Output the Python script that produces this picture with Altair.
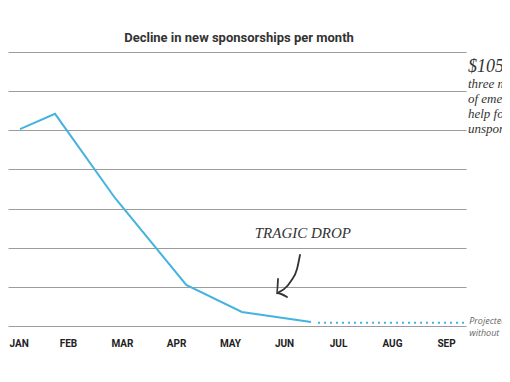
import json
import altair as alt
import pandas as pd

# ---- data -------------------------------------------------------------
months = ["JAN", "FEB", "MAR", "APR", "MAY", "JUN", "JUL", "AUG", "SEP"]

# actual decline (x in month index units, y in grid units)
line_x = [0.11, 0.76, 1.87, 3.19, 4.22, 5.50]
line_y = [5.03, 5.42, 3.27, 1.05, 0.36, 0.10]

# projected continuation
proj_x = [5.63, 8.35]
proj_y = [0.08, 0.08]

grid_values = [0, 1, 2, 3, 4, 5, 6, 7]

# hand-drawn arrow (shaft + head), in data units
arrow_x = [5.296, 5.241, 5.130, 4.870, 4.889, 4.870, 5.056]
arrow_y = [1.814, 1.456, 1.150, 0.843, 1.201, 0.843, 0.741]
arrow_part = ["shaft", "shaft", "shaft", "shaft", "head", "head", "head"]
arrow_order = [0, 1, 2, 3, 0, 1, 2]

title_text = "Decline in new sponsorships per month"
note_amount = "$105"
note_lines = ["three months", "of emergency", "help for", "unsponsored"]
proj_lines = ["Projected continued decline", "without urgent help"]
drop_label = "TRAGIC DROP"

# ---- frames -----------------------------------------------------------
line_df = pd.DataFrame({"x": line_x, "y": line_y})
proj_df = pd.DataFrame({"x": proj_x, "y": proj_y})
arrow_df = pd.DataFrame({"x": arrow_x, "y": arrow_y, "part": arrow_part, "o": arrow_order})

xscale = alt.Scale(domain=[-0.1111, 8.3704], nice=False, zero=False)
yscale = alt.Scale(domain=[0, 7], nice=False, zero=False)

label_expr = json.dumps(months) + "[datum.value]"

xaxis = alt.Axis(values=list(range(len(months))), labelExpr=label_expr,
                 grid=False, ticks=False, domain=False, title=None,
                 labelPadding=12, labelFont="Roboto", labelFontSize=10,
                 labelFontWeight="bold", labelColor="#222",
                 labelFlush=8, labelFlushOffset=5)
yaxis = alt.Axis(values=grid_values, grid=True, gridColor="#9c9c9c", gridWidth=1,
                 labels=False, ticks=False, domain=False, title=None)

BLUE = "#45b3df"
HAND = "Liberation Serif"


def X():
    return alt.X("x:Q", scale=xscale, axis=xaxis)


def Y():
    return alt.Y("y:Q", scale=yscale, axis=yaxis)


actual = alt.Chart(line_df).mark_line(color=BLUE, strokeWidth=2).encode(x=X(), y=Y())

projected = alt.Chart(proj_df).mark_line(
    color=BLUE, strokeWidth=2, strokeDash=[2, 4], strokeCap="butt"
).encode(x=X(), y=Y())

arrow = alt.Chart(arrow_df).mark_line(
    color="#333", strokeWidth=1.8, interpolate="monotone", strokeCap="round"
).encode(x=X(), y=Y(), detail="part:N", order="o:Q")

drop_text = alt.Chart(pd.DataFrame({"t": [drop_label], "x": [5.35], "y": [2.38]})).mark_text(
    font=HAND, fontStyle="italic", fontSize=15, color="#333", align="center",
    baseline="middle",
).encode(x=X(), y=Y(), text="t:N")

amount_text = alt.Chart(pd.DataFrame({"t": [note_amount], "x": [8.407], "y": [6.49]})).mark_text(
    font=HAND, fontStyle="italic", fontSize=18, color="#333", align="left",
    baseline="alphabetic",
).encode(x=X(), y=Y(), text="t:N")

note_text = alt.Chart(pd.DataFrame({"t": [note_lines], "x": [8.407], "y": [6.08]})).mark_text(
    font=HAND, fontStyle="italic", fontSize=13, color="#333", align="left",
    baseline="alphabetic", lineHeight=15,
).encode(x=X(), y=Y(), text="t")

proj_text = alt.Chart(pd.DataFrame({"t": [proj_lines], "x": [8.43], "y": [0.14]})).mark_text(
    font="Open Sans", fontStyle="italic", fontSize=9, color="#666", align="left",
    baseline="middle", lineHeight=12,
).encode(x=X(), y=Y(), text="t")

chart = alt.layer(
    actual, projected, arrow, drop_text, amount_text, note_text, proj_text
).properties(
    width=458,
    height=274,
    padding={"left": 0, "top": 44, "right": 36, "bottom": 48},
    autosize=alt.AutoSizeParams(type="none"),
    title=alt.TitleParams(title_text, font="Roboto", fontSize=13, fontWeight="bold",
                          color="#333", anchor="middle", offset=7, dx=2),
).configure_view(stroke=None)

chart.save("out.html", embed_options={"renderer": "svg", "actions": False})
